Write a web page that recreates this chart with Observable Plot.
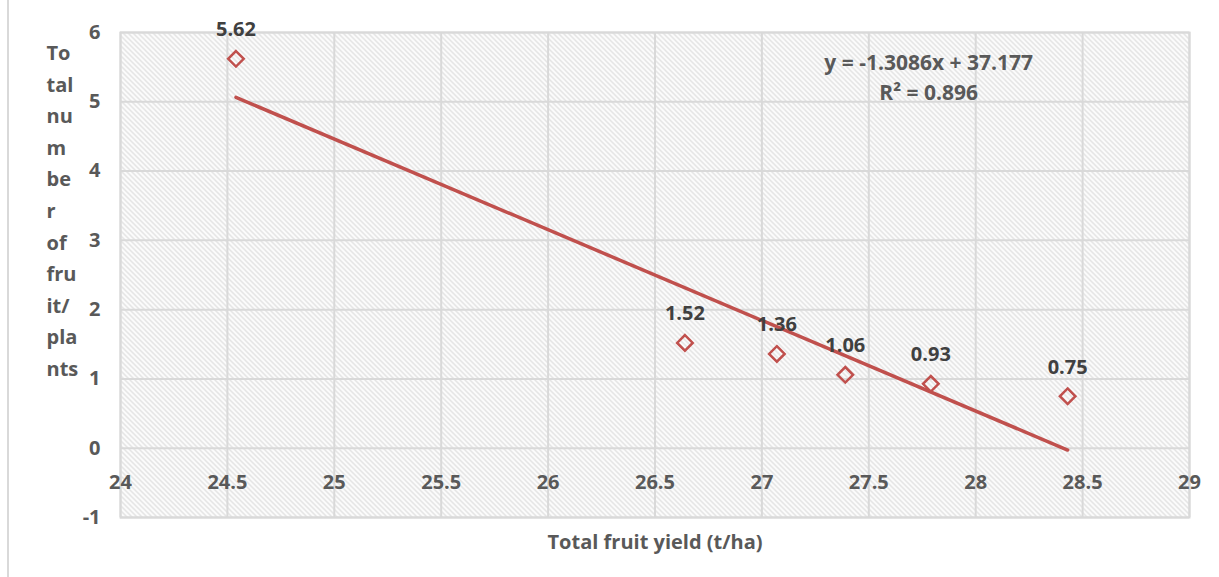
<!DOCTYPE html>
<html>
<head>
<meta charset="utf-8">
<script src="https://cdn.jsdelivr.net/npm/d3@7"></script>
<script src="https://cdn.jsdelivr.net/npm/@observablehq/plot@0.6"></script>
<style>
  html, body { margin: 0; padding: 0; background: #fff; }
  #wrap { position: relative; width: 1219px; height: 577px; }
  #border { position: absolute; left: 7px; top: 0; width: 2px; height: 577px; background: #d9d9d9; }
</style>
</head>
<body>
<div id="wrap"><div id="border"></div></div>
<script>
// Data
const yieldValues = [24.54, 26.64, 27.07, 27.39, 27.79, 28.43];
const fruitCounts = [5.62, 1.52, 1.36, 1.06, 0.93, 0.75];
const xTicks = [24, 24.5, 25, 25.5, 26, 26.5, 27, 27.5, 28, 28.5, 29];
const yTicks = [-1, 0, 1, 2, 3, 4, 5, 6];
const slope = -1.3086;
const intercept = 37.177;
const equationLines = ["y = -1.3086x + 37.177", "R² = 0.896"];
const equationPos = [{x: 27.78, y: 5.56}, {x: 27.78, y: 5.13}];
const yTitle = "To\ntal\nnu\nm\nbe\nr\nof\nfru\nit/\npla\nnts";
const xTitle = "Total fruit yield (t/ha)";

const points = yieldValues.map((x, i) => ({x, y: fruitCounts[i]}));
const xMin = d3.min(yieldValues), xMax = d3.max(yieldValues);
const trend = [xMin, xMax].map(x => ({x, y: slope * x + intercept}));
const eq = equationLines.map((t, i) => ({t, ...equationPos[i]}));

const red = "#c0504d";
const font = "'Open Sans', Lato, sans-serif";
const fs = 20;

const chart = Plot.plot({
  width: 1219,
  height: 577,
  marginLeft: 120,
  marginRight: 30,
  marginTop: 32,
  marginBottom: 60,
  style: {fontFamily: font, background: "transparent"},
  x: {domain: [24, 29], axis: null},
  y: {domain: [-1, 6]},
  marks: [
    Plot.frame({fill: "url(#hatch)", stroke: null}),
    Plot.gridX(xTicks, {stroke: "#d9d9d9", strokeOpacity: 1, strokeWidth: 2}),
    Plot.gridY(yTicks, {stroke: "#d9d9d9", strokeOpacity: 1, strokeWidth: 2}),
    Plot.frame({stroke: "#d9d9d9", strokeWidth: 2}),
    Plot.axisY(yTicks, {tickSize: 0, tickPadding: 20, fontSize: fs, fontWeight: "bold", fill: "#595959", tickFormat: d => String(d), label: null}),
    Plot.text(xTicks, {x: d => d, y: () => -0.5, text: d => String(d), fontSize: fs, fontWeight: "bold", fill: "#595959"}),
    Plot.line(trend, {x: "x", y: "y", stroke: red, strokeWidth: 3.5}),
    Plot.dot(points, {x: "x", y: "y", symbol: "diamond2", r: 7, stroke: red, strokeWidth: 2.5, fill: "none"}),
    Plot.text(points, {x: "x", y: "y", text: d => d.y.toFixed(2), dy: -29, fontSize: fs, fontWeight: "bold", fill: "#404040"}),
    Plot.text(eq, {x: "x", y: "y", text: "t", fontSize: 21, fontWeight: "bold", fill: "#595959"}),
    Plot.text([yTitle], {frameAnchor: "top-left", dx: -74, dy: 5, text: d => d, textAnchor: "start", lineAnchor: "top", lineHeight: 1.58, fontSize: fs, fontWeight: "bold", fill: "#595959"}),
    Plot.text([xTitle], {frameAnchor: "bottom", dy: 31, text: d => d, fontSize: 20, fontWeight: "bold", fill: "#595959"})
  ]
});

// Hatch pattern definition
const ns = "http://www.w3.org/2000/svg";
const defs = document.createElementNS(ns, "defs");
defs.innerHTML = `<pattern id="hatch" patternUnits="userSpaceOnUse" width="5" height="5">
  <rect width="5" height="5" fill="#ffffff"/>
  <path d="M-1,-1 L6,6 M-1,4 L1,6 M4,-1 L6,1" stroke="#dcdcdc" stroke-width="1.3"/>
</pattern>`;
chart.insertBefore(defs, chart.firstChild);
chart.style.position = "absolute";
chart.style.left = "0";
chart.style.top = "0";
document.getElementById("wrap").appendChild(chart);
</script>
</body>
</html>
